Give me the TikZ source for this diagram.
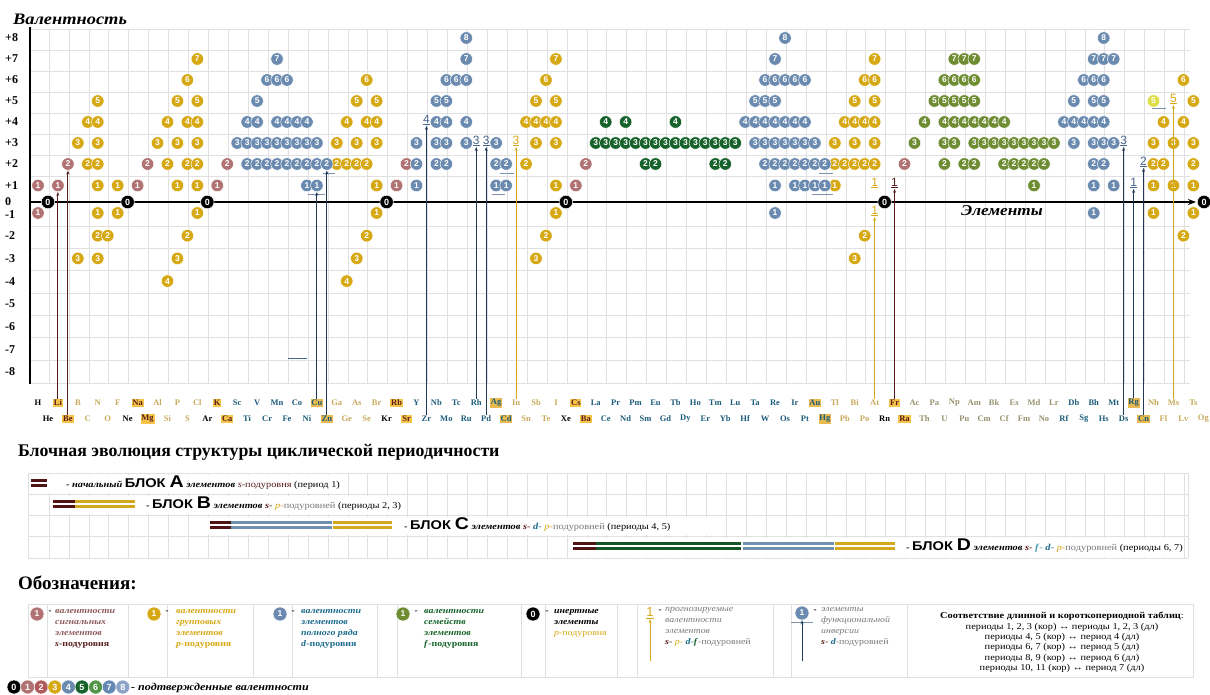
\documentclass[tikz,border=0pt]{standalone}
\usepackage{fontspec}
\setmainfont{Liberation Serif}
\newfontfamily\sansf{Liberation Sans}
\newfontfamily\wserif[FakeStretch=1.15]{Liberation Serif}
\newfontfamily\wsans[FakeStretch=1.15]{Liberation Sans}
\usetikzlibrary{arrows.meta}
\definecolor{sR}{RGB}{176,114,114}
\definecolor{pG}{RGB}{214,168,20}
\definecolor{dB}{RGB}{106,138,175}
\definecolor{fD}{RGB}{22,98,42}
\definecolor{fO}{RGB}{110,140,50}
\definecolor{nvy}{RGB}{32,56,88}
\definecolor{mrn}{RGB}{88,28,28}
\definecolor{gridc}{RGB}{224,224,224}
\definecolor{lP}{RGB}{200,168,90}
\definecolor{lD}{RGB}{28,92,122}
\definecolor{lA}{RGB}{150,146,110}
\definecolor{hlS}{RGB}{246,196,72}
\definecolor{hlC}{RGB}{232,186,80}
\definecolor{slate}{RGB}{70,100,140}
\definecolor{pale}{RGB}{222,222,70}
\definecolor{greyt}{RGB}{120,120,120}
\definecolor{teal}{RGB}{26,106,138}
\definecolor{tealL}{RGB}{70,150,180}
\definecolor{c2}{RGB}{176,90,90}
\definecolor{c6}{RGB}{80,150,70}
\definecolor{c7}{RGB}{100,136,180}
\definecolor{c8}{RGB}{140,162,198}
\definecolor{barM}{RGB}{80,20,20}
\definecolor{barG}{RGB}{212,168,30}
\definecolor{barB}{RGB}{112,144,176}
\definecolor{barF}{RGB}{20,85,40}
\pgfmathdeclarefunction{ex}{1}{\pgfmathparse{38+9.96*((#1)-1)}}
\pgfmathdeclarefunction{vy}{1}{\pgfmathparse{((#1)>1)*(206-21*(#1))+((#1)==1)*185.5+((#1)==0)*202+((#1)<0)*(213+22.7*(0-(#1)-1))}}
\newcommand\mks[3]{\foreach \vl in {#3}{\pgfmathtruncatemacro\dd{abs(\vl)}\pgfmathtruncatemacro\vv{\vl+10}\node[mk=#1] (m#2v\vv) at ({ex(#2)},{vy(\vl)}) {\dd};}}
\begin{document}
\begin{tikzpicture}[x=1pt,y=-1pt,
  mk/.style={circle, fill=#1, draw=white, line width=0.5pt, inner sep=0pt, minimum size=12.5pt, text=white, font=\sansf\bfseries\fontsize{8.5}{8.5}\selectfont},
  inert/.style={circle, fill=black, draw=white, line width=0.5pt, inner sep=0pt, minimum size=13.5pt, text=white, font=\sansf\bfseries\fontsize{9}{9}\selectfont},
  el/.style={font=\bfseries\fontsize{8.5}{9}\selectfont, inner sep=0.9pt},
  elk/.style={el,text=black}, elS/.style={el,fill=hlS,text=mrn}, elP/.style={el,text=lP},
  elD/.style={el,text=lD}, elC/.style={el,fill=hlC,text=lD}, elA/.style={el,text=lA},
  pr/.style={font=\sansf\fontsize{12}{12}\selectfont, inner sep=0.5pt, text=#1},
  arr/.style={line width=1pt, draw=#1, -{Stealth[length=4pt,width=3pt]}},
  ul/.style={draw=slate!70, line width=0.8pt},
  gl/.style={draw=gridc, line width=0.6pt},
  legt/.style={anchor=north west, align=left, inner sep=0pt, font=\wserif\bfseries\itshape\fontsize{8.6}{11}\selectfont},
  dashnode/.style={inner sep=0pt, font=\bfseries\fontsize{9}{9}\selectfont},
  bar/.style={line width=2.8pt}
]
\useasboundingbox (0,0) rectangle (1210,695);
% ---------- chart grid ----------
\foreach \k in {0,...,57} \draw[gl] ({49+19.92*\k},29) -- ({49+19.92*\k},383);
\foreach \y in {29,50,71,92,113,134,155,176,226,248,270,293,315,337,360,383} \draw[gl] (30,\y) -- (1190,\y);
% axes
\draw[line width=2.4pt] (30,27) -- (30,384);
\draw[line width=1.6pt, -{Stealth[length=8pt,width=6pt]}] (30,202) -- (1196,202);
\node[font=\wserif\bfseries\itshape\fontsize{16}{16}\selectfont] (vtitle) at (70,19) {Валентность};
\node[font=\wserif\bfseries\itshape\fontsize{15}{15}\selectfont] (etitle) at (1002,211) {Элементы};
\foreach \vl/\t [count=\i] in {8/+8,7/+7,6/+6,5/+5,4/+4,3/+3,2/+2,1/+1,0/0,-1/-1,-2/-2,-3/-3,-4/-4,-5/-5,-6/-6,-7/-7,-8/-8}
  \node[anchor=west, inner sep=0pt, font=\bfseries\fontsize{12}{12}\selectfont] (yl\i) at (5,{vy(\vl)+(\vl==-1)*1.5}) {\t};
\draw[draw=slate, line width=0.9pt] (288,358) -- (307,358);
% ---------- element labels ----------
\foreach \z/\s/\c in {1/H/elk,2/He/elk,3/Li/elS,4/Be/elS,5/B/elP,6/C/elP,7/N/elP,8/O/elP,9/F/elP,10/Ne/elk,11/Na/elS,12/Mg/elS,13/Al/elP,14/Si/elP,15/P/elP,16/S/elP,17/Cl/elP,18/Ar/elk,19/K/elS,20/Ca/elS,21/Sc/elD,22/Ti/elD,23/V/elD,24/Cr/elD,25/Mn/elD,26/Fe/elD,27/Co/elD,28/Ni/elD,29/Cu/elC,30/Zn/elC,31/Ga/elP,32/Ge/elP,33/As/elP,34/Se/elP,35/Br/elP,36/Kr/elk,37/Rb/elS,38/Sr/elS,39/Y/elD,40/Zr/elD,41/Nb/elD,42/Mo/elD,43/Tc/elD,44/Ru/elD,45/Rh/elD,46/Pd/elD,47/Ag/elC,48/Cd/elC,49/In/elP,50/Sn/elP,51/Sb/elP,52/Te/elP,53/I/elP,54/Xe/elk,55/Cs/elS,56/Ba/elS,57/La/elD,58/Ce/elD,59/Pr/elD,60/Nd/elD,61/Pm/elD,62/Sm/elD,63/Eu/elD,64/Gd/elD,65/Tb/elD,66/Dy/elD,67/Ho/elD,68/Er/elD,69/Tm/elD,70/Yb/elD,71/Lu/elD,72/Hf/elD,73/Ta/elD,74/W/elD,75/Re/elD,76/Os/elD,77/Ir/elD,78/Pt/elD,79/Au/elC,80/Hg/elC,81/Tl/elP,82/Pb/elP,83/Bi/elP,84/Po/elP,85/At/elP,86/Rn/elk,87/Fr/elS,88/Ra/elS,89/Ac/elA,90/Th/elA,91/Pa/elA,92/U/elA,93/Np/elA,94/Pu/elA,95/Am/elA,96/Cm/elA,97/Bk/elA,98/Cf/elA,99/Es/elA,100/Fm/elA,101/Md/elA,102/No/elA,103/Lr/elA,104/Rf/elD,105/Db/elD,106/Sg/elD,107/Bh/elD,108/Hs/elD,109/Mt/elD,110/Ds/elD,111/Rg/elC,112/Cn/elC,113/Nh/elP,114/Fl/elP,115/Ms/elP,116/Lv/elP,117/Ts/elP,118/Og/elP}
{\pgfmathsetmacro\yy{403+16*(1-mod(\z,2))}\node[\c] (e\z) at ({ex(\z)},\yy) {\s};}
% ---------- predicted valences (text) ----------
\node[pr=slate] (p40) at ({ex(40)},120) {\underline{4}};
\node[pr=slate] (p45) at ({ex(45)},141) {\underline{3}};
\node[pr=slate] (p46) at ({ex(46)},141) {\underline{3}};
\node[pr=pG] (p49) at ({ex(49)},141) {\underline{3}};
\node[pr=pG] (p85a) at ({ex(85)},183) {\underline{1}};
\node[pr=pG] (p85b) at ({ex(85)},211) {\underline{1}};
\node[pr=mrn] (p87) at ({ex(87)},183) {\underline{1}};
\node[pr=slate] (p110) at ({ex(110)},141) {\underline{3}};
\node[pr=slate] (p111) at ({ex(111)},183) {\underline{1}};
\node[pr=slate] (p112) at ({ex(112)},162) {\underline{2}};
\node[pr=pG] (p115) at ({ex(115)},99) {\underline{5}};
% ---------- markers ----------
\mks{sR}{1}{1,-1}\mks{sR}{3}{1}\mks{sR}{4}{2}\mks{sR}{11}{1}\mks{sR}{12}{2}\mks{sR}{19}{1}\mks{sR}{20}{2}
\mks{sR}{37}{1}\mks{sR}{38}{2}\mks{sR}{55}{1}\mks{sR}{56}{2}\mks{sR}{88}{2}
\mks{pG}{5}{3,-3}\mks{pG}{6}{2,4}\mks{pG}{7}{1,2,3,4,5,-1,-2,-3}\mks{pG}{8}{-2}\mks{pG}{9}{1,-1}
\mks{pG}{13}{3}\mks{pG}{14}{2,4,-4}\mks{pG}{15}{1,3,5,-3}\mks{pG}{16}{2,4,6,-2}\mks{pG}{17}{1,2,3,4,5,7,-1}
\mks{pG}{31}{2,3}\mks{pG}{32}{2,4,-4}\mks{pG}{33}{2,3,5,-3}\mks{pG}{34}{2,4,6,-2}\mks{pG}{35}{1,3,4,5,-1}
\mks{pG}{50}{2,4}\mks{pG}{51}{3,4,5,-3}\mks{pG}{52}{4,6,-2}\mks{pG}{53}{1,3,4,5,7,-1}
\mks{pG}{81}{1,2,3}\mks{pG}{82}{2,4}\mks{pG}{83}{2,3,4,5,-3}\mks{pG}{84}{2,4,6,-2}\mks{pG}{85}{2,3,4,5,6,7}
\mks{pG}{113}{1,2,3,-1}\mks{pale}{113}{5}\mks{pG}{114}{2,4}\mks{pG}{115}{1,3}\mks{pG}{116}{4,6,-2}\mks{pG}{117}{1,2,3,5,-1}
\mks{dB}{21}{3}\mks{dB}{22}{2,3,4}\mks{dB}{23}{2,3,4,5}\mks{dB}{24}{2,3,6}\mks{dB}{25}{2,3,4,6,7}
\mks{dB}{26}{2,3,4,6}\mks{dB}{27}{2,3,4}\mks{dB}{28}{1,2,3,4}\mks{dB}{29}{1,2,3}\mks{dB}{30}{2}
\mks{dB}{39}{1,2,3}\mks{dB}{41}{2,3,4,5}\mks{dB}{42}{2,3,4,5,6}\mks{dB}{43}{6}\mks{dB}{44}{3,4,6,7,8}
\mks{dB}{47}{1,2,3}\mks{dB}{48}{1,2}
\mks{dB}{72}{4}\mks{dB}{73}{3,4,5}\mks{dB}{74}{2,3,4,5,6}\mks{dB}{75}{1,2,3,4,5,6,7,-1}\mks{dB}{76}{2,3,4,6,8}
\mks{dB}{77}{1,2,3,4,6}\mks{dB}{78}{1,2,3,4,6}\mks{dB}{79}{1,2,3}\mks{dB}{80}{1,2}
\mks{dB}{104}{4}\mks{dB}{105}{3,4,5}\mks{dB}{106}{4,6}\mks{dB}{107}{1,2,3,4,5,6,7,-1}\mks{dB}{108}{2,3,4,5,6,7,8}\mks{dB}{109}{1,3,7}
\foreach \z in {57,...,71}{\mks{fD}{\z}{3}}
\mks{fD}{58}{4}\mks{fD}{60}{4}\mks{fD}{65}{4}\mks{fD}{62}{2}\mks{fD}{63}{2}\mks{fD}{69}{2}\mks{fD}{70}{2}
\mks{fO}{89}{3}\mks{fO}{90}{4}\mks{fO}{91}{5}\mks{fO}{92}{2,3,4,5,6}\mks{fO}{93}{3,4,5,6,7}\mks{fO}{94}{2,4,5,6,7}
\mks{fO}{95}{2,3,4,5,6,7}\mks{fO}{96}{3,4}\mks{fO}{97}{3,4}\mks{fO}{98}{2,3,4}\mks{fO}{99}{2,3}\mks{fO}{100}{2,3}
\mks{fO}{101}{1,2,3}\mks{fO}{102}{2,3}\mks{fO}{103}{3}
\foreach \z in {2,10,18,36,54,86} \node[inert] (m\z v10) at ({ex(\z)},202) {0};
\node[inert] (m118v10) at (1204,202) {0};
% underlines under markers
\draw[ul] (308,194) -- (325,194);
\draw[ul] (323,173) -- (335,173);
\draw[ul] (500,173) -- (514,173);
\draw[ul] (492,194) -- (505,194);
\draw[ul] (812,194) -- (833,194);
\draw[ul] (819,173) -- (833,173);
\draw[ul] (1152,108.5) -- (1166,108.5);
% ---------- arrows ----------
\draw[arr=mrn] (e3.north) -- (e3.north |- m3v11.south);
\draw[arr=mrn] (e4.north) -- (e4.north |- m4v12.south);
\draw[arr=nvy] (e29.north) -- (e29.north |- m29v11.south);
\draw[arr=nvy] (e30.north) -- (e30.north |- m30v12.south);
\draw[arr=nvy] (e40.north) -- (e40.north |- p40.south);
\draw[arr=nvy] (e45.north) -- (e45.north |- p45.south);
\draw[arr=nvy] (e46.north) -- (e46.north |- p46.south);
\draw[arr=pG] (e49.north) -- (e49.north |- p49.south);
\draw[arr=pG] (e85.north) -- (e85.north |- p85b.south);
\draw[arr=mrn] (e87.north) -- (e87.north |- p87.south);
\draw[arr=nvy] (e110.north) -- (e110.north |- p110.south);
\draw[arr=nvy] (e111.north) -- (e111.north |- p111.south);
\draw[arr=nvy] (e112.north) -- (e112.north |- p112.south);
\draw[arr=pG] (e115.north) -- (e115.north |- p115.south);
% ---------- block evolution ----------
\node[anchor=west, inner sep=0pt, font=\bfseries\fontsize{17.8}{18}\selectfont] (t1) at (18,452) {Блочная эволюция структуры циклической периодичности};
\foreach \k in {0,...,57} \draw[gl] ({49+19.92*\k},473) -- ({49+19.92*\k},558);
\foreach \y in {473,494,515,536,558} \draw[gl] (28,\y) -- (1188,\y);
\draw[gl] (28,473) -- (28,558); \draw[gl] (1188,473) -- (1188,558);
\fill[white] (30,475) rectangle (345,492.5);
\fill[white] (50,496) rectangle (404,513.5);
\fill[white] (206,517) rectangle (726,534.5);
\fill[white] (568,538) rectangle (1182,556.5);
\foreach \dy in {-2.6,2.6}{
 \draw[bar,barM] (31,483+\dy) -- (47,483+\dy);
 \draw[bar,barM] (53,504+\dy) -- (75,504+\dy); \draw[bar,barG] (75,504+\dy) -- (135,504+\dy);
 \draw[bar,barM] (210,525+\dy) -- (231,525+\dy); \draw[bar,barB] (231,525+\dy) -- (332,525+\dy); \draw[bar,barG] (333,525+\dy) -- (392,525+\dy);
 \draw[bar,barM] (573,546+\dy) -- (596,546+\dy); \draw[bar,barF] (596,546+\dy) -- (741,546+\dy); \draw[bar,barB] (743,546+\dy) -- (834,546+\dy); \draw[bar,barG] (835,546+\dy) -- (895,546+\dy);
}
\node[anchor=west, inner sep=0pt, font=\wserif\fontsize{9}{9}\selectfont] (bA) at (66,483) {\textbf{\textit{- начальный}}\ {\wsans\bfseries\fontsize{12.7}{12}\selectfont БЛОК {\fontsize{17}{16}\selectfont A}}\ \textbf{\textit{элементов}}\ \textcolor{mrn}{\textit{s}-подуровня}\ (период 1)};
\node[anchor=west, inner sep=0pt, font=\wserif\fontsize{9}{9}\selectfont] (bB) at (146,504) {\textbf{-}\ {\wsans\bfseries\fontsize{12.7}{12}\selectfont БЛОК {\fontsize{17}{16}\selectfont B}}\ \textbf{\textit{элементов}}\ \textcolor{mrn}{\textbf{\textit{s}}-}\ \textcolor{pG}{\textit{p}-}\textcolor{greyt}{подуровней}\ (периоды 2, 3)};
\node[anchor=west, inner sep=0pt, font=\wserif\fontsize{9}{9}\selectfont] (bC) at (404,525) {\textbf{-}\ {\wsans\bfseries\fontsize{12.7}{12}\selectfont БЛОК {\fontsize{17}{16}\selectfont C}}\ \textbf{\textit{элементов}}\ \textcolor{mrn}{\textbf{\textit{s}}-}\ \textcolor{teal}{\textbf{\textit{d}}-}\ \textcolor{pG}{\textit{p}-}\textcolor{greyt}{подуровней}\ (периоды 4, 5)};
\node[anchor=west, inner sep=0pt, font=\wserif\fontsize{9}{9}\selectfont] (bD) at (906,546) {\textbf{-}\ {\wsans\bfseries\fontsize{12.7}{12}\selectfont БЛОК {\fontsize{17}{16}\selectfont D}}\ \textbf{\textit{элементов}}\ \textcolor{mrn}{\textbf{\textit{s}}-}\ \textcolor{tealL}{\textbf{\textit{f}}-}\ \textcolor{teal}{\textbf{\textit{d}}-}\ \textcolor{pG}{\textit{p}-}\textcolor{greyt}{подуровней}\ (периоды 6, 7)};
% ---------- legend ----------
\node[anchor=west, inner sep=0pt, font=\bfseries\fontsize{19}{19}\selectfont] (t2) at (18,583) {Обозначения:};
\draw[gl] (28,604) rectangle (1193,677);
\foreach \x in {47,128,167,253,292,377,397,521,545,617,637,773,791,907} \draw[gl] (\x,604) -- (\x,677);
\node[mk=sR, minimum size=14pt] (L1) at (37,614) {1};
\node[dashnode] (L1d) at (50,612) {-};
\node[legt, text=sR!80!black] (L1t) at (55,609) {валентности\\сигнальных\\элементов\\\textcolor{mrn}{\textup{\textit{s}-подуровня}}};
\node[mk=pG, minimum size=14pt] (L2) at (154,614) {1};
\node[dashnode] (L2d) at (167,612) {-};
\node[legt, text=pG] (L2t) at (176,609) {валентности\\групповых\\элементов\\\textup{\textit{p}-подуровня}};
\node[mk=dB, minimum size=14pt] (L3) at (280,614) {1};
\node[dashnode] (L3d) at (293,612) {-};
\node[legt, text=teal] (L3t) at (301,609) {валентности\\элементов\\полного ряда\\\textup{\textit{d}-подуровня}};
\node[mk=fO, minimum size=14pt] (L4) at (403,614) {1};
\node[dashnode] (L4d) at (416,612) {-};
\node[legt, text=fD] (L4t) at (424,609) {валентности\\семейств\\элементов\\\textup{\textit{f}-подуровня}};
\node[inert, minimum size=14pt] (L5) at (533,614) {0};
\node[dashnode] (L5d) at (547,612) {-};
\node[legt] (L5t) at (554,609) {инертные\\элементы\\\textcolor{pG}{\textup{\mdseries\textit{p}-подуровня}}};
\node[pr=pG, font=\sansf\fontsize{13}{13}\selectfont] (L6) at (650,613) {\underline{1}};
\coordinate (L6s) at (650,661);
\draw[arr=pG] (L6s) -- (L6.south);
\node[dashnode] (L6d) at (660,611) {-};
\node[legt, text=greyt, font=\wserif\mdseries\itshape\fontsize{8.6}{11}\selectfont] (L6t) at (665,607) {прогнозируемые\\валентности\\элементов\\\textup{\textcolor{mrn}{\textbf{\textit{s}}-} \textcolor{pG}{\textit{p}-} \textcolor{teal}{\textbf{\textit{d}}-}\textcolor{fD}{\textbf{\textit{f}}}-подуровней}};
\node[mk=dB, minimum size=14pt] (L7) at (802,613) {1};
\draw[ul] (791,622) -- (813,622);
\coordinate (L7s) at (802,661);
\draw[arr=nvy] (L7s) -- (L7.south);
\node[dashnode] (L7d) at (815,611) {-};
\node[legt, text=greyt, font=\wserif\mdseries\itshape\fontsize{8.6}{11}\selectfont] (L7t) at (821,607) {элементы\\функциональной\\инверсии\\\textup{\textcolor{mrn}{\textbf{\textit{s}}-} \textcolor{teal}{\textbf{\textit{d}}}-подуровней}};
\node[anchor=north, align=center, inner sep=0pt, font=\wserif\fontsize{9}{10.4}\selectfont] (corr) at (1062,612) {\textbf{Соответствие длинной и короткопериодной таблиц}:\\периоды 1, 2, 3 (кор) ↔ периоды 1, 2, 3 (дл)\\периоды 4, 5 (кор) ↔ период 4 (дл)\\периоды 6, 7 (кор) ↔ период 5 (дл)\\периоды 8, 9 (кор) ↔ период 6 (дл)\\периоды 10, 11 (кор) ↔ период 7 (дл)};
\foreach \d/\col in {0/black,1/sR,2/c2,3/pG,4/dB,5/fD,6/c6,7/c7,8/c8}
  \node[mk=\col, minimum size=14pt, font=\sansf\bfseries\fontsize{9}{9}\selectfont] (cl\d) at ({14+13.6*\d},687) {\d};
\node[anchor=west, inner sep=0pt, font=\wserif\bfseries\itshape\fontsize{10.5}{10.5}\selectfont] (cltxt) at (131,688) {- подтвержденные валентности};
\end{tikzpicture}
\end{document}
